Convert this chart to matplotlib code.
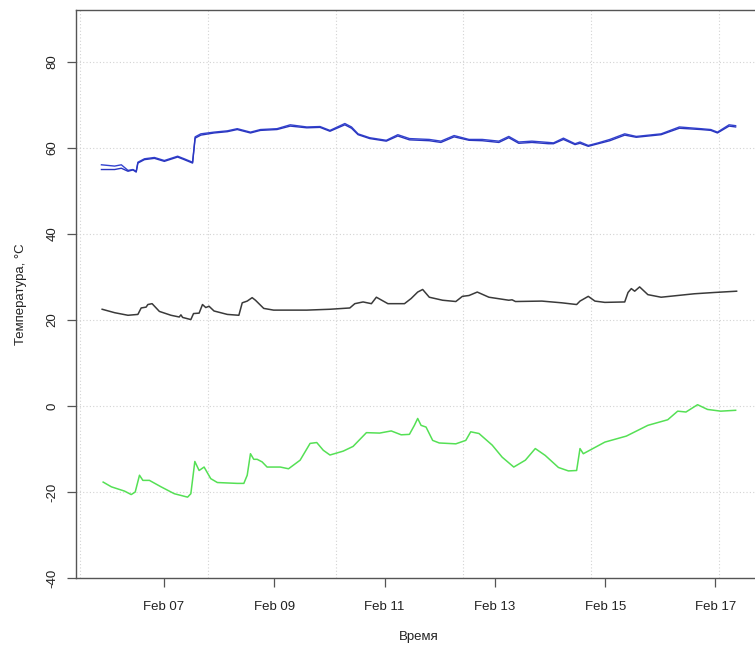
import matplotlib
matplotlib.use("Agg")
import matplotlib.pyplot as plt
import matplotlib.dates as mdates
import numpy as np
import pandas as pd

plt.rcParams['font.family'] = ['Liberation Sans', 'DejaVu Sans']

# Heating supply (two sensors), indoor and outdoor temperature, Feb 2014 (UTC)
supply_time = [
    "02-05 20:45", "02-06 02:30", "02-06 05:25", "02-06 08:18", "02-06 10:28",
    "02-06 11:53", "02-06 12:37", "02-06 15:29", "02-06 19:48", "02-07 00:08",
    "02-07 05:55", "02-07 08:47", "02-07 12:25", "02-07 13:32", "02-07 16:00",
    "02-07 21:45", "02-08 03:33", "02-08 07:52", "02-08 13:37", "02-08 17:57",
    "02-09 01:10", "02-09 06:55", "02-09 14:08", "02-09 19:53", "02-10 00:13",
    "02-10 06:42", "02-10 09:36", "02-10 12:27", "02-10 17:31", "02-11 00:44",
    "02-11 05:45", "02-11 10:48", "02-11 19:27", "02-12 00:30", "02-12 06:15",
    "02-12 12:45", "02-12 18:31", "02-13 01:44", "02-13 06:03", "02-13 10:23",
    "02-13 16:08", "02-13 23:21", "02-14 01:31", "02-14 05:50", "02-14 10:53",
    "02-14 13:03", "02-14 16:39", "02-14 20:58", "02-15 02:02", "02-15 08:31",
    "02-15 13:32", "02-16 00:21", "02-16 08:18", "02-16 17:39", "02-16 21:59",
    "02-17 00:52", "02-17 05:56", "02-17 08:47",
]
supply_a = [
    56.1, 55.8, 56.1, 54.8, 55.0, 54.6, 56.7, 57.5, 57.8, 57.1,
    58.1, 57.5, 56.7, 62.6, 63.3, 63.7, 64.0, 64.5, 63.7, 64.3,
    64.5, 65.4, 64.9, 65.0, 64.1, 65.7, 64.9, 63.3, 62.4, 61.8,
    63.1, 62.2, 62.0, 61.6, 62.9, 62.0, 62.0, 61.6, 62.7, 61.4,
    61.6, 61.3, 61.2, 62.3, 61.0, 61.4, 60.6, 61.2, 62.0, 63.3,
    62.7, 63.3, 64.9, 64.5, 64.3, 63.7, 65.4, 65.2,
]
supply_b = [
    55.0, 55.0, 55.3, 54.6, 54.9, 54.4, 56.5, 57.3, 57.6, 56.9,
    57.9, 57.3, 56.5, 62.3, 63.0, 63.5, 63.8, 64.3, 63.5, 64.1,
    64.3, 65.1, 64.7, 64.8, 63.9, 65.4, 64.6, 63.1, 62.2, 61.6,
    62.8, 61.9, 61.7, 61.3, 62.6, 61.8, 61.7, 61.3, 62.4, 61.1,
    61.3, 61.0, 61.0, 62.0, 60.8, 61.1, 60.4, 61.0, 61.7, 63.0,
    62.5, 63.1, 64.6, 64.3, 64.1, 63.5, 65.1, 64.9,
]

indoor_time = [
    "02-05 21:04", "02-06 02:30", "02-06 08:18", "02-06 12:37", "02-06 14:03",
    "02-06 16:12", "02-06 16:57", "02-06 18:48", "02-06 21:58", "02-07 03:02",
    "02-07 06:37", "02-07 07:21", "02-07 08:05", "02-07 11:40", "02-07 12:50",
    "02-07 15:16", "02-07 16:44", "02-07 18:10", "02-07 19:35", "02-07 21:45",
    "02-08 03:33", "02-08 08:34", "02-08 10:02", "02-08 12:12", "02-08 14:21",
    "02-08 15:47", "02-08 19:23", "02-08 23:42", "02-09 14:08", "02-10 00:13",
    "02-10 08:52", "02-10 11:02", "02-10 14:38", "02-10 18:15", "02-10 20:25",
    "02-11 01:26", "02-11 08:39", "02-11 11:33", "02-11 14:24", "02-11 16:34",
    "02-11 19:27", "02-12 01:13", "02-12 07:00", "02-12 09:51", "02-12 12:45",
    "02-12 16:20", "02-12 21:24", "02-13 06:03", "02-13 07:29", "02-13 08:57",
    "02-13 20:27", "02-14 05:06", "02-14 11:35", "02-14 13:03", "02-14 16:39",
    "02-14 19:33", "02-14 23:52", "02-15 08:31", "02-15 09:57", "02-15 11:23",
    "02-15 12:51", "02-15 15:00", "02-15 18:35", "02-16 00:21", "02-16 07:34",
    "02-16 14:47", "02-16 23:26", "02-17 09:13",
]
indoor = [
    22.5, 21.7, 21.1, 21.3, 22.8, 23.0, 23.6, 23.8, 22.0, 21.1,
    20.7, 21.2, 20.6, 20.1, 21.5, 21.6, 23.6, 22.9, 23.2, 22.1,
    21.3, 21.1, 24.0, 24.4, 25.2, 24.6, 22.7, 22.3, 22.3, 22.5,
    22.8, 23.8, 24.2, 23.8, 25.3, 23.8, 23.8, 25.0, 26.5, 27.1,
    25.3, 24.6, 24.3, 25.5, 25.7, 26.5, 25.3, 24.6, 24.7, 24.3,
    24.4, 24.0, 23.6, 24.4, 25.5, 24.4, 24.1, 24.2, 26.4, 27.3,
    26.7, 27.7, 25.9, 25.3, 25.7, 26.1, 26.4, 26.7,
]

outdoor_time = [
    "02-05 21:30", "02-06 01:05", "02-06 06:50", "02-06 09:43", "02-06 11:27",
    "02-06 13:19", "02-06 14:47", "02-06 17:38", "02-06 22:42", "02-07 04:27",
    "02-07 10:15", "02-07 11:40", "02-07 13:24", "02-07 15:16", "02-07 17:26",
    "02-07 20:20", "02-07 23:13", "02-08 07:52", "02-08 10:44", "02-08 12:12",
    "02-08 13:37", "02-08 15:03", "02-08 16:31", "02-08 18:41", "02-08 20:51",
    "02-09 02:35", "02-09 06:11", "02-09 11:14", "02-09 15:34", "02-09 18:28",
    "02-09 21:19", "02-10 00:13", "02-10 05:58", "02-10 10:17", "02-10 16:05",
    "02-10 21:50", "02-11 02:53", "02-11 07:13", "02-11 10:48", "02-11 12:58",
    "02-11 14:24", "02-11 15:52", "02-11 18:02", "02-11 20:55", "02-11 23:47",
    "02-12 07:00", "02-12 11:20", "02-12 13:29", "02-12 17:05", "02-12 22:50",
    "02-13 03:10", "02-13 08:13", "02-13 13:16", "02-13 17:35", "02-13 21:55",
    "02-14 03:40", "02-14 08:00", "02-14 11:35", "02-14 13:03", "02-14 14:29",
    "02-14 23:52", "02-15 09:13", "02-15 18:35", "02-16 03:14", "02-16 07:34",
    "02-16 11:10", "02-16 16:13", "02-16 20:33", "02-17 02:18", "02-17 08:47",
]
outdoor = [
    -17.7, -18.8, -19.8, -20.6, -20.0, -16.1, -17.3, -17.3, -18.8, -20.4,
    -21.2, -20.4, -12.9, -15.0, -14.2, -16.9, -17.8, -18.0, -18.0, -16.1,
    -11.1, -12.4, -12.4, -13.0, -14.2, -14.2, -14.6, -12.6, -8.7, -8.5,
    -10.3, -11.4, -10.5, -9.4, -6.2, -6.3, -5.8, -6.7, -6.6, -4.5,
    -2.9, -4.5, -4.9, -8.0, -8.6, -8.8, -8.0, -6.0, -6.4, -9.1,
    -11.9, -14.2, -12.6, -9.9, -11.5, -14.3, -15.1, -15.0, -9.9, -11.1,
    -8.4, -7.0, -4.5, -3.2, -1.2, -1.4, 0.3, -0.8, -1.2, -1.0,
]

y_ticks = [-40, -20, 0, 20, 40, 60, 80]
x_ticks = ["02-07", "02-09", "02-11", "02-13", "02-15", "02-17"]


def to_dt(stamps):
    return pd.to_datetime(["2014-" + s for s in stamps])


t_sup = to_dt(supply_time)
t_in = to_dt(indoor_time)
t_out = to_dt(outdoor_time)

fig = plt.figure(figsize=(7.55, 6.46), dpi=100)
ax = fig.add_axes([0.1007, 0.1053, 0.9086, 0.8792])

# x range: data span padded by 4% on each side
t_min = min(t_sup.min(), t_in.min(), t_out.min())
t_max = max(t_sup.max(), t_in.max(), t_out.max())
pad = (t_max - t_min) * 0.04
ax.set_xlim(t_min - pad, t_max + pad)
ax.set_ylim(-40, 92.1)

# dotted grid: vertical lines every 200000 s from the epoch
lo = (t_min - pad).value // 10**9
hi = (t_max + pad).value // 10**9
grid_sec = np.arange((lo // 200000 + 1) * 200000, hi + 1, 200000)
for g in pd.to_datetime(grid_sec, unit="s"):
    ax.axvline(g, color="#d3d3d3", lw=0.8, ls=(0, (1, 2)), zorder=0)
for y in y_ticks:
    ax.axhline(y, color="#d3d3d3", lw=0.8, ls=(0, (1, 2)), zorder=0)

ax.plot(t_sup, supply_a, color="#3343d0", lw=1.0)
ax.plot(t_sup, supply_b, color="#2a36c0", lw=1.0)
ax.plot(t_in, indoor, color="#3a3a3a", lw=1.1)
ax.plot(t_out, outdoor, color="#55e055", lw=1.1)

ax.set_yticks(y_ticks)
ax.set_yticklabels([str(v) for v in y_ticks], rotation=90, va="center")
ax.set_xticks(to_dt([s + " 00:00" for s in x_ticks]))
ax.xaxis.set_major_formatter(mdates.DateFormatter("%b %d"))

for s in ax.spines.values():
    s.set_color("#555555")
    s.set_linewidth(1.0)
ax.tick_params(axis="both", direction="out", length=6.5, width=0.9,
               color="#555555", labelsize=9.5, labelcolor="#222222")
ax.tick_params(axis="x", pad=10)
ax.tick_params(axis="y", pad=6)

ax.set_xlabel("Время", fontsize=9.5, color="#222222", labelpad=13)
ax.set_ylabel("Температура, °C", fontsize=9.5, color="#222222", labelpad=14)

fig.savefig("out.png", dpi=100)
